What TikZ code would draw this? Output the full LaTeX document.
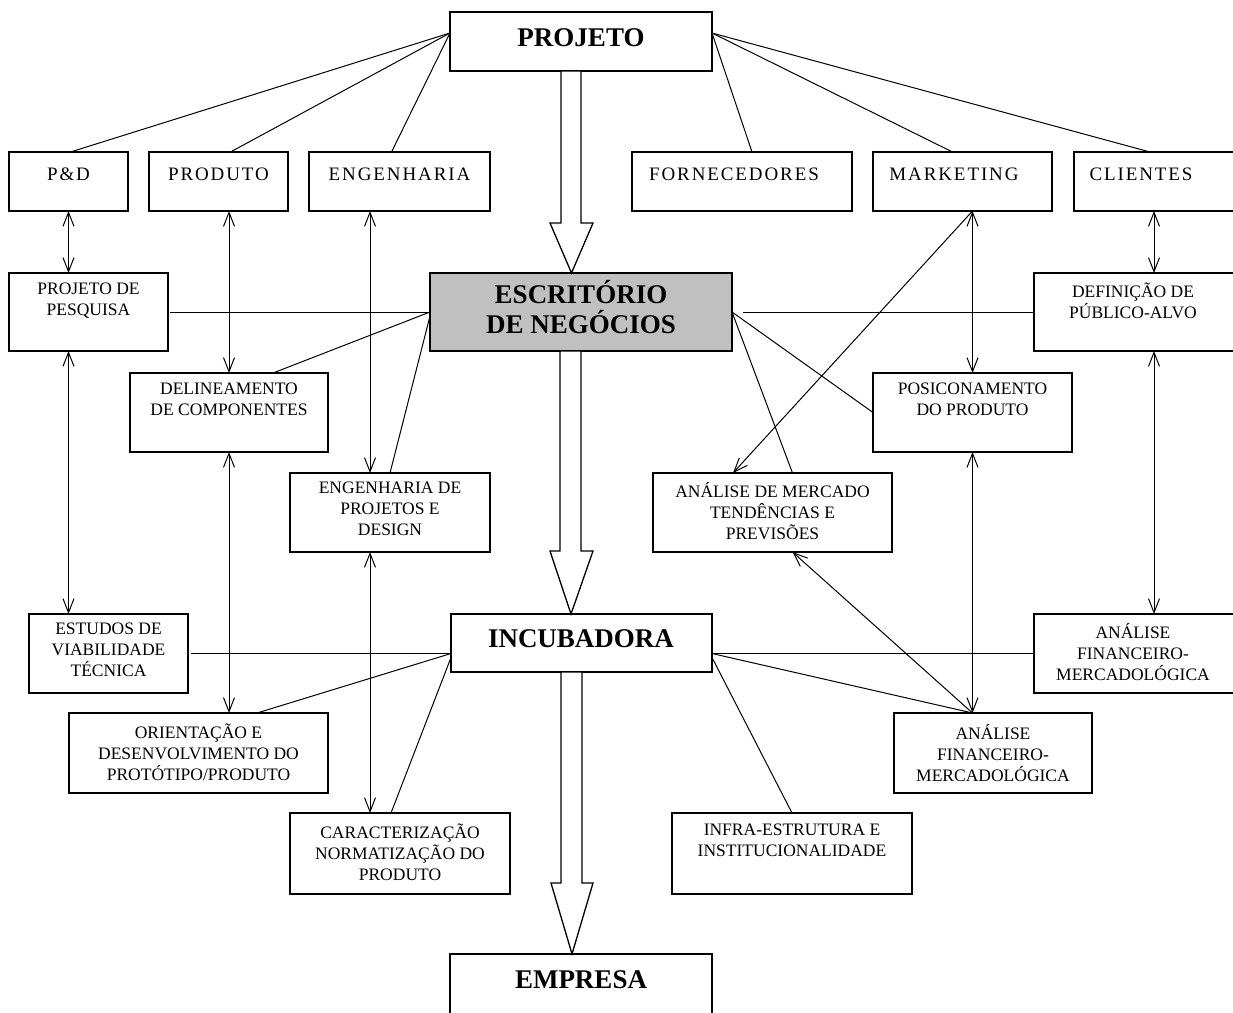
\documentclass[tikz,border=0pt]{standalone}
\usepackage{fontspec}
\setmainfont{Liberation Serif}
\newfontfamily\topfnt[LetterSpace=10]{Liberation Serif}
\usetikzlibrary{arrows.meta,fit,calc}
\definecolor{boxgray}{RGB}{192,192,192}
\begin{document}
\begin{tikzpicture}[x=1pt,y=-1pt,
  box/.style={draw, line width=1.3pt, inner sep=0pt, outer sep=0pt},
  conn/.style={line width=1pt},
  blk/.style={draw, fill=white, line width=1.3pt, line join=miter},
  >={Straight Barb[length=14pt,width=11pt]},
  lbl/.style={anchor=north, align=center, inner sep=0pt, font=\fontsize{17.5}{21}\selectfont, execute at begin node={\rule{0pt}{16pt}}},
  toplbl/.style={anchor=north, inner sep=0pt, font=\topfnt\fontsize{19}{22}\selectfont, execute at begin node={\rule{0pt}{17pt}}},
  biglbl/.style={anchor=base, inner sep=0pt, font=\bfseries\fontsize{27}{30}\selectfont}]
\useasboundingbox (0,0) rectangle (1233,1012);
\begin{scope}
\clip (0,0) rectangle (1233,1012);
\fill[white] (0,0) rectangle (1233,1012);
% boxes
\node[box, fit={(450,12) (712,71)}] (proj) {};
\node[box, fit={(9,152) (128,211)}] (pd) {};
\node[box, fit={(149,152) (288,211)}] (prod) {};
\node[box, fit={(309,152) (490,211)}] (eng) {};
\node[box, fit={(632,152) (852,211)}] (forn) {};
\node[box, fit={(873,152) (1052,211)}] (mkt) {};
\node[box, fit={(1074,152) (1240,211)}] (cli) {};
\node[box, fit={(9,273) (168,351)}] (pesq) {};
\node[box, fill=boxgray, fit={(430,273) (732,351)}] (escr) {};
\node[box, fit={(1034,273) (1240,351)}] (def) {};
\node[box, fit={(130,373) (328,452)}] (delin) {};
\node[box, fit={(873,373) (1072,452)}] (posic) {};
\node[box, fit={(290,473) (490,552)}] (engp) {};
\node[box, fit={(653,473) (892,552)}] (anaM) {};
\node[box, fit={(29,614) (188,693)}] (est) {};
\node[box, fit={(451,614) (712,672)}] (incub) {};
\node[box, fit={(1034,614) (1240,693)}] (anar) {};
\node[box, fit={(69,713) (328,793)}] (orient) {};
\node[box, fit={(894,713) (1092,793)}] (anam) {};
\node[box, fit={(290,813) (510,894)}] (caract) {};
\node[box, fit={(672,813) (912,894)}] (infra) {};
\node[box, fit={(450,954) (712,1040)}] (emp) {};
% labels
\node[biglbl] (projt) at (581,46) {PROJETO};
\node[anchor=north, align=center, inner sep=0pt, font=\bfseries\fontsize{27}{30}\selectfont, execute at begin node={\rule{0pt}{25pt}}] (escrt) at (581,280) {ESCRITÓRIO\\DE NEGÓCIOS};
\node[biglbl] (incubt) at (581,647) {INCUBADORA};
\node[biglbl] (empt) at (581,988) {EMPRESA};
\node[toplbl] (pdt) at (68.5,163) {P\&D};
\node[toplbl] (prodt) at (218.5,163) {PRODUTO};
\node[toplbl] (engt) at (399.5,163) {ENGENHARIA};
\node[toplbl] (fornt) at (734,163) {FORNECEDORES};
\node[toplbl] (mktt) at (954,163) {MARKETING};
\node[toplbl] (clit) at (1141,163) {CLIENTES};
\node[lbl] (pesqt) at (88.5,283) {PROJETO DE\\PESQUISA};
\node[lbl] (deft) at (1133,283) {DEFINIÇÃO DE\\PÚBLICO-ALVO};
\node[lbl] (delint) at (229,383) {DELINEAMENTO\\DE COMPONENTES};
\node[lbl] (posict) at (972.5,383) {POSICONAMENTO\\DO PRODUTO};
\node[lbl] (engpt) at (390,482) {ENGENHARIA DE\\PROJETOS E\\DESIGN};
\node[lbl] (anaMt) at (772.5,482) {ANÁLISE DE MERCADO\\TENDÊNCIAS E\\PREVISÕES};
\node[lbl] (estt) at (108.5,623) {ESTUDOS DE\\VIABILIDADE\\TÉCNICA};
\node[lbl] (anart) at (1133,623) {ANÁLISE\\FINANCEIRO-\\MERCADOLÓGICA};
\node[lbl] (orientt) at (198.5,724) {ORIENTAÇÃO E\\DESENVOLVIMENTO DO\\PROTÓTIPO/PRODUTO};
\node[lbl] (anamt) at (993,724) {ANÁLISE\\FINANCEIRO-\\MERCADOLÓGICA};
\node[lbl] (caractt) at (400,824) {CARACTERIZAÇÃO\\NORMATIZAÇÃO DO\\PRODUTO};
\node[lbl] (infrat) at (792,824) {INFRA-ESTRUTURA E\\INSTITUCIONALIDADE};
% helper coordinates
\coordinate (xeng) at ([xshift=-20pt]engp.north);
\coordinate (xcli) at ([xshift=-3pt]cli.south);
\coordinate (incL) at (est.east -| incub.west);
\coordinate (incR) at (est.east -| incub.east);
\coordinate (anamT) at (posic.south |- anam.north);
\coordinate (mktB) at (posic.north |- mkt.south);
% lines from PROJETO
\draw[conn] ([yshift=-21pt]proj.north west) -- ([xshift=2pt]pd.north);
\draw[conn] ([yshift=-21pt]proj.north west) -- ([xshift=12pt]prod.north);
\draw[conn] ([yshift=-21pt]proj.north west) -- ([xshift=-8pt]eng.north);
\draw[conn] ([yshift=-21pt]proj.north east) -- ([xshift=10pt]forn.north);
\draw[conn] ([yshift=-21pt]proj.north east) -- ([xshift=-10pt]mkt.north);
\draw[conn] ([yshift=-21pt]proj.north east) -- ([xshift=-7pt]cli.north);
% vertical double arrows
\draw[conn,<->] (pd.south) -- (pd.south |- pesq.north);
\draw[conn,<->] (pd.south |- pesq.south) -- (pd.south |- est.north);
\draw[conn,<->] (delin.north |- prod.south) -- (delin.north);
\draw[conn,<->] (delin.south) -- (delin.south |- orient.north);
\draw[conn,<->] (xeng |- eng.south) -- (xeng);
\draw[conn,<->] (xeng |- engp.south) -- (xeng |- caract.north);
\draw[conn,<->] (mktB) -- (posic.north);
\draw[conn,<->] (posic.south) -- (anamT);
\draw[conn,<->] (xcli) -- (xcli |- def.north);
\draw[conn,<->] (xcli |- def.south) -- (xcli |- anar.north);
% horizontal lines
\draw[conn] ([xshift=2pt]pesq.east) -- (escr.west);
\draw[conn] ([xshift=11pt]escr.east) -- (def.west);
\draw[conn] ([xshift=3pt]est.east) -- (incL);
\draw[conn] (incR) -- (anar.west);
% diagonals
\draw[conn] (escr.west) -- ([xshift=44pt]delin.north);
\draw[conn] ([yshift=-4pt]escr.west) -- (engp.north);
\draw[conn] (escr.east) -- (posic.west);
\draw[conn] (escr.east) -- ([xshift=20pt]anaM.north);
\draw[conn,->] (mktB) -- ([xshift=-39.5pt]anaM.north);
\draw[conn,->] (anamT) -- ([xshift=20pt]anaM.south);
\draw[conn] (incL) -- ([xshift=58.5pt]orient.north);
\draw[conn] ([yshift=-4pt]incL) -- ([xshift=-9pt]caract.north);
\draw[conn] (incR) -- (anamT);
\draw[conn] ([yshift=-4pt]incR) -- (infra.north);
% block arrows
\draw[blk] let \p1=(proj.south), \p2=(escr.north) in
  (\x1-20pt,\y1) -- (\x1-20pt,\y2+50pt) -- (\x1-31pt,\y2+50pt) -- (\x1-9.5pt,\y2)
  -- (\x1+12pt,\y2+50pt) -- (\x1,\y2+50pt) -- (\x1,\y1) -- cycle;
\draw[blk] let \p1=(escr.south), \p2=(incub.north) in
  (\x1-21pt,\y1) -- (\x1-21pt,\y2+63pt) -- (\x1-31pt,\y2+63pt) -- (\x1-10pt,\y2)
  -- (\x1+12pt,\y2+63pt) -- (\x1,\y2+63pt) -- (\x1,\y1) -- cycle;
\draw[blk] let \p1=(incub.south), \p2=(emp.north) in
  (\x1-20.5pt,\y1) -- (\x1-20.5pt,\y2+71pt) -- (\x1-30.5pt,\y2+71pt) -- (\x1-9.5pt,\y2)
  -- (\x1+11.5pt,\y2+71pt) -- (\x1+0.5pt,\y2+71pt) -- (\x1+0.5pt,\y1) -- cycle;
\end{scope}
\end{tikzpicture}
\end{document}
